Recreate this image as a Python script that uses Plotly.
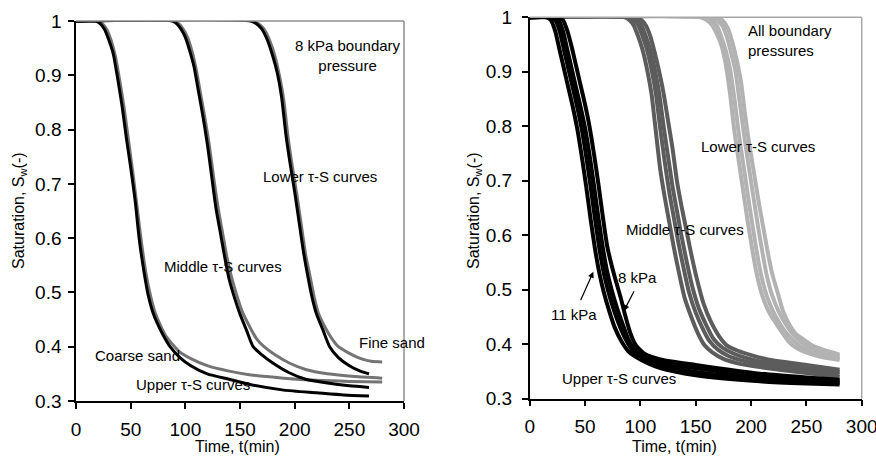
import plotly.graph_objects as go

# ---------------- data ----------------
x_ticks = [0, 50, 100, 150, 200, 250, 300]
x_tick_text = ["0", "50", "100", "150", "200", "250", "300"]
y_ticks = [0.3, 0.4, 0.5, 0.6, 0.7, 0.8, 0.9, 1.0]
y_tick_text = ["0.3", "0.4", "0.5", "0.6", "0.7", "0.8", "0.9", "1"]

# Left panel: 8 kPa boundary pressure, coarse sand (black) / fine sand (grey)
upper_coarse_t = [0, 18, 22, 26, 30, 34, 38, 42, 46, 50, 54, 58, 62, 66, 70, 75, 80, 86, 95, 105, 120, 140, 160, 190, 220, 245, 268]
upper_coarse_s = [1, 1, 0.995, 0.985, 0.965, 0.94, 0.895, 0.845, 0.785, 0.73, 0.67, 0.595, 0.54, 0.495, 0.465, 0.44, 0.42, 0.40, 0.38, 0.365, 0.35, 0.34, 0.33, 0.32, 0.315, 0.311, 0.309]
upper_fine_t = [0, 20, 24, 28, 32, 36, 40, 44, 48, 52, 56, 60, 64, 68, 72, 77, 82, 88, 95, 105, 120, 140, 160, 190, 220, 250, 280]
upper_fine_s = [1, 1, 0.995, 0.985, 0.965, 0.935, 0.89, 0.84, 0.78, 0.72, 0.655, 0.59, 0.535, 0.495, 0.465, 0.44, 0.42, 0.405, 0.39, 0.378, 0.365, 0.355, 0.348, 0.342, 0.338, 0.336, 0.335]
middle_coarse_t = [0, 88, 92, 96, 100, 104, 108, 112, 116, 120, 124, 128, 132, 136, 140, 145, 150, 156, 162, 170, 180, 195, 210, 230, 250, 268]
middle_coarse_s = [1, 1, 0.995, 0.985, 0.97, 0.945, 0.915, 0.87, 0.825, 0.775, 0.715, 0.655, 0.61, 0.565, 0.525, 0.49, 0.46, 0.43, 0.40, 0.385, 0.37, 0.352, 0.34, 0.333, 0.328, 0.325]
middle_fine_t = [0, 90, 94, 98, 102, 106, 110, 114, 118, 122, 126, 130, 134, 138, 142, 147, 152, 158, 165, 172, 182, 195, 210, 230, 255, 280]
middle_fine_s = [1, 1, 0.995, 0.985, 0.97, 0.945, 0.91, 0.865, 0.82, 0.77, 0.71, 0.655, 0.61, 0.565, 0.53, 0.495, 0.465, 0.44, 0.415, 0.40, 0.385, 0.37, 0.358, 0.35, 0.345, 0.342]
lower_coarse_t = [0, 160, 165, 170, 175, 180, 184, 188, 192, 196, 200, 204, 208, 212, 216, 220, 226, 232, 240, 250, 260, 268]
lower_coarse_s = [1, 1, 0.995, 0.985, 0.965, 0.935, 0.905, 0.86, 0.79, 0.735, 0.685, 0.63, 0.575, 0.53, 0.49, 0.46, 0.43, 0.40, 0.38, 0.365, 0.355, 0.35]
lower_fine_t = [0, 162, 167, 172, 177, 182, 186, 190, 194, 198, 202, 206, 210, 214, 218, 222, 228, 234, 240, 248, 258, 270, 280]
lower_fine_s = [1, 1, 0.995, 0.985, 0.965, 0.935, 0.90, 0.855, 0.785, 0.73, 0.68, 0.625, 0.57, 0.53, 0.49, 0.46, 0.435, 0.415, 0.40, 0.39, 0.38, 0.373, 0.372]

# Right panel: all boundary pressures (four curves per group)
up1_t = [0, 15, 19, 23, 27, 31, 35, 39, 43, 47, 51, 55, 59, 63, 67, 72, 77, 83, 90, 100, 118, 150, 208, 250, 280]
up1_s = [1, 1, 0.995, 0.975, 0.94, 0.905, 0.87, 0.835, 0.795, 0.745, 0.69, 0.63, 0.575, 0.53, 0.495, 0.46, 0.43, 0.405, 0.385, 0.372, 0.356, 0.343, 0.332, 0.328, 0.326]
up2_t = [0, 19, 23, 27, 31, 35, 39, 43, 47, 51, 55, 59, 63, 67, 71, 76, 81, 87, 93, 102, 118, 150, 208, 250, 280]
up2_s = [1, 1, 0.995, 0.975, 0.94, 0.905, 0.87, 0.835, 0.795, 0.745, 0.69, 0.63, 0.575, 0.53, 0.497, 0.463, 0.435, 0.408, 0.388, 0.375, 0.362, 0.349, 0.337, 0.332, 0.329]
up3_t = [0, 22, 26, 30, 34, 38, 42, 46, 50, 54, 58, 62, 66, 70, 74, 79, 84, 89, 95, 103, 118, 150, 208, 250, 280]
up3_s = [1, 1, 0.995, 0.975, 0.94, 0.905, 0.87, 0.835, 0.797, 0.748, 0.692, 0.633, 0.578, 0.533, 0.50, 0.466, 0.437, 0.41, 0.39, 0.378, 0.367, 0.356, 0.342, 0.336, 0.332]
up4_t = [0, 26, 30, 34, 38, 42, 46, 50, 54, 58, 62, 66, 70, 74, 78, 82, 86, 91, 96, 104, 118, 150, 208, 250, 280]
up4_s = [1, 1, 0.995, 0.975, 0.945, 0.91, 0.875, 0.84, 0.80, 0.75, 0.695, 0.635, 0.58, 0.545, 0.515, 0.487, 0.455, 0.42, 0.398, 0.382, 0.372, 0.362, 0.346, 0.339, 0.335]

mid1_t = [0, 86, 90, 94, 98, 102, 106, 110, 114, 118, 122, 126, 130, 135, 140, 146, 152, 158, 165, 175, 190, 208, 250, 280]
mid1_s = [1, 1, 0.995, 0.985, 0.965, 0.94, 0.905, 0.86, 0.79, 0.72, 0.67, 0.625, 0.58, 0.53, 0.485, 0.45, 0.42, 0.398, 0.385, 0.373, 0.364, 0.358, 0.347, 0.34]
mid2_t = [0, 90, 94, 98, 102, 106, 110, 114, 118, 122, 126, 130, 134, 139, 144, 150, 156, 162, 170, 180, 194, 210, 250, 280]
mid2_s = [1, 1, 0.995, 0.985, 0.965, 0.94, 0.905, 0.86, 0.795, 0.735, 0.68, 0.635, 0.59, 0.54, 0.495, 0.458, 0.43, 0.407, 0.39, 0.378, 0.369, 0.362, 0.352, 0.345]
mid3_t = [0, 93, 97, 101, 105, 109, 113, 117, 121, 125, 129, 133, 137, 142, 147, 153, 160, 166, 174, 184, 197, 212, 250, 280]
mid3_s = [1, 1, 0.995, 0.985, 0.965, 0.94, 0.905, 0.86, 0.80, 0.745, 0.69, 0.645, 0.60, 0.55, 0.505, 0.465, 0.433, 0.41, 0.394, 0.383, 0.374, 0.367, 0.357, 0.349]
mid4_t = [0, 97, 101, 105, 109, 113, 117, 121, 125, 129, 133, 137, 141, 146, 151, 157, 164, 171, 178, 188, 200, 215, 250, 280]
mid4_s = [1, 1, 0.995, 0.985, 0.965, 0.935, 0.90, 0.86, 0.81, 0.76, 0.70, 0.655, 0.615, 0.565, 0.52, 0.475, 0.44, 0.415, 0.398, 0.388, 0.38, 0.372, 0.362, 0.353]

low1_t = [0, 154, 160, 165, 169, 173, 177, 181, 185, 189, 193, 197, 201, 205, 210, 216, 222, 228, 234, 242, 252, 265, 280]
low1_s = [1, 1, 0.995, 0.985, 0.97, 0.95, 0.915, 0.86, 0.79, 0.735, 0.68, 0.625, 0.575, 0.53, 0.49, 0.46, 0.44, 0.422, 0.405, 0.392, 0.383, 0.376, 0.371]
low2_t = [0, 159, 164, 169, 173, 177, 181, 185, 189, 193, 197, 201, 205, 209, 214, 220, 226, 232, 239, 247, 257, 268, 280]
low2_s = [1, 1, 0.995, 0.985, 0.965, 0.94, 0.905, 0.85, 0.785, 0.73, 0.675, 0.622, 0.572, 0.528, 0.49, 0.46, 0.438, 0.42, 0.405, 0.393, 0.384, 0.378, 0.374]
low3_t = [0, 164, 169, 174, 178, 182, 186, 190, 194, 198, 202, 206, 210, 214, 219, 225, 231, 237, 244, 252, 261, 271, 280]
low3_s = [1, 1, 0.995, 0.985, 0.965, 0.935, 0.90, 0.84, 0.78, 0.725, 0.672, 0.62, 0.572, 0.528, 0.49, 0.46, 0.438, 0.42, 0.406, 0.395, 0.386, 0.38, 0.377]
low4_t = [0, 169, 174, 179, 183, 187, 191, 195, 199, 203, 207, 211, 215, 219, 224, 229, 235, 241, 248, 256, 265, 280]
low4_s = [1, 1, 0.995, 0.98, 0.955, 0.922, 0.88, 0.815, 0.76, 0.71, 0.66, 0.615, 0.57, 0.53, 0.495, 0.46, 0.435, 0.418, 0.408, 0.397, 0.39, 0.381]

# ---------------- figure ----------------
FONT = "Liberation Sans, Arial, sans-serif"
BLACK = "#000000"
GREY_L = "#747474"
DARK = "#5c5c5c"
LIGHT = "#b2b2b2"

fig = go.Figure()

def add_curve(t, s, color, width, xa, ya):
    fig.add_trace(go.Scatter(x=t, y=s, mode="lines", xaxis=xa, yaxis=ya,
                             line=dict(color=color, width=width, shape="spline", smoothing=0.6),
                             showlegend=False, hoverinfo="skip"))

# left panel (grey drawn first, black on top)
for t, s in [(upper_fine_t, upper_fine_s), (middle_fine_t, middle_fine_s), (lower_fine_t, lower_fine_s)]:
    add_curve(t, s, GREY_L, 3, "x", "y")
for t, s in [(upper_coarse_t, upper_coarse_s), (middle_coarse_t, middle_coarse_s), (lower_coarse_t, lower_coarse_s)]:
    add_curve(t, s, BLACK, 3, "x", "y")

# right panel
for t, s in [(low1_t, low1_s), (low2_t, low2_s), (low3_t, low3_s), (low4_t, low4_s)]:
    add_curve(t, s, LIGHT, 4, "x2", "y2")
for t, s in [(mid1_t, mid1_s), (mid2_t, mid2_s), (mid3_t, mid3_s), (mid4_t, mid4_s)]:
    add_curve(t, s, DARK, 4, "x2", "y2")
for t, s in [(up1_t, up1_s), (up2_t, up2_s), (up3_t, up3_s), (up4_t, up4_s)]:
    add_curve(t, s, BLACK, 4, "x2", "y2")

axis_common = dict(showgrid=False, zeroline=False, showline=True, linecolor="black", linewidth=1.5,
                   ticks="outside", ticklen=6, tickwidth=1.5, tickcolor="black", automargin=False,
                   tickfont=dict(family=FONT, size=19, color="black"))

fig.update_layout(
    width=876, height=461, margin=dict(l=0, r=0, t=0, b=0, autoexpand=False),
    paper_bgcolor="white", plot_bgcolor="white",
    font=dict(family=FONT, color="black"),
    xaxis=dict(domain=[0.0868, 0.4612], range=[0, 300], tickvals=x_ticks, ticktext=x_tick_text,
               anchor="y", ticklabelstandoff=4, ticklabeloverflow="allow", **axis_common),
    yaxis=dict(domain=[0.1302, 0.9544], range=[0.3, 1.0], tickvals=y_ticks, ticktext=y_tick_text,
               anchor="x", ticklabelstandoff=3, ticklabeloverflow="allow", **axis_common),
    xaxis2=dict(domain=[0.6047, 0.9837], range=[0, 300], tickvals=x_ticks, ticktext=x_tick_text,
                anchor="y2", ticklabelstandoff=4, ticklabeloverflow="allow", **axis_common),
    yaxis2=dict(domain=[0.1351, 0.9625], range=[0.3, 1.0], tickvals=y_ticks, ticktext=y_tick_text,
                anchor="x2", ticklabelstandoff=6, ticklabeloverflow="allow", **axis_common),
)

# grey top/right frame lines
for xr, yr, col in [("x domain", "y domain", "#8f8f8f"), ("x2 domain", "y2 domain", "#a8a8a8")]:
    fig.add_shape(type="line", xref=xr, yref=yr, x0=0, x1=1, y0=1, y1=1, line=dict(color=col, width=1.5))
    fig.add_shape(type="line", xref=xr, yref=yr, x0=1, x1=1, y0=0, y1=1, line=dict(color=col, width=1.5))

def note(text, x, y, xa, ya, size=15, xanchor="center", align="center"):
    fig.add_annotation(text=text, x=x, y=y, xref=xa, yref=ya, showarrow=False,
                       font=dict(family=FONT, size=size, color="black"),
                       xanchor=xanchor, yanchor="middle", align=align)

# left annotations
note("8 kPa boundary<br>pressure", 249, 0.936, "x", "y")
note("Lower τ-S curves", 223, 0.713, "x", "y")
note("Middle τ-S curves", 134.5, 0.547, "x", "y")
note("Fine sand", 289, 0.407, "x", "y")
note("Coarse sand", 15.5, 0.383, "x", "y", xanchor="left")
note("Upper τ-S curves", 107, 0.331, "x", "y")

# right annotations
note("All boundary<br>pressures", 195, 0.958, "x2", "y2", xanchor="left", align="left")
note("Lower τ-S curves", 206, 0.762, "x2", "y2")
note("Middle τ-S curves", 140, 0.61, "x2", "y2")
note("Upper τ-S curves", 81, 0.338, "x2", "y2")
note("8 kPa", 97.5, 0.522, "x2", "y2")
note("11 kPa", 40, 0.454, "x2", "y2")

# arrows
for (tx, ty, hx, hy) in [(45.4, 0.478, 57.5, 0.533), (95, 0.50, 85, 0.461)]:
    fig.add_annotation(x=hx, y=hy, ax=tx, ay=ty, xref="x2", yref="y2", axref="x2", ayref="y2",
                       text="", showarrow=True, arrowhead=2, arrowsize=1, arrowwidth=1.2,
                       arrowcolor="black")

# axis titles
for xc in [19, 474]:
    fig.add_annotation(text="Saturation, S<sub>w</sub>(-)", x=xc / 876, y=1 - 211 / 461,
                       xref="paper", yref="paper", showarrow=False, textangle=-90,
                       font=dict(family=FONT, size=16, color="black"),
                       xanchor="center", yanchor="middle")
for xc in [237, 674]:
    fig.add_annotation(text="Time, t(min)", x=xc / 876, y=1 - 446 / 461,
                       xref="paper", yref="paper", showarrow=False,
                       font=dict(family=FONT, size=16, color="black"),
                       xanchor="center", yanchor="middle")

fig.write_html("out.html")
